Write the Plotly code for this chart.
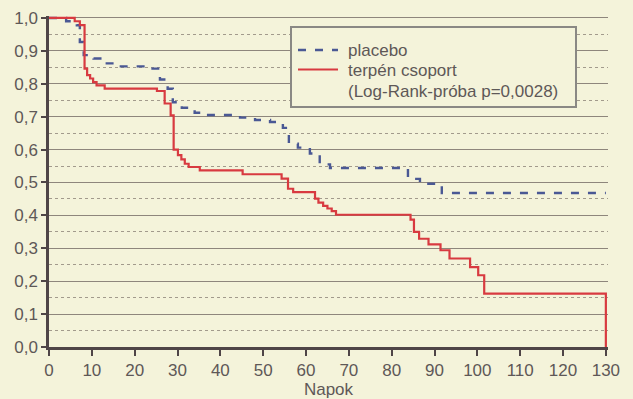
import plotly.graph_objects as go

# ---- data ----
placebo_days = [0, 4.0, 6.5, 7.2, 8.1, 10.4, 13.0, 16.0, 23.5, 25.9, 27.7, 28.9, 31.0, 34.0,
                36.6, 44.6, 48.1, 51.6, 54.6, 56.0, 58.1, 60.9, 63.2, 65.6, 83.8, 86.6, 91.7, 130]
placebo_surv = [1.0, 0.99, 0.978, 0.927, 0.887, 0.877, 0.862, 0.853, 0.846, 0.813, 0.785, 0.744,
                0.727, 0.712, 0.705, 0.697, 0.690, 0.684, 0.666, 0.618, 0.606, 0.588, 0.555, 0.544,
                0.511, 0.496, 0.468, 0.468]

terpen_days = [0, 6.0, 7.2, 8.3, 8.9, 9.6, 10.3, 11.1, 13.0, 25.2, 27.0, 28.4, 29.1, 30.1, 30.9,
               31.7, 32.6, 35.2, 45.2, 54.3, 55.8, 57.0, 62.1, 62.9, 64.0, 65.0, 66.0, 67.0, 84.4,
               85.2, 86.4, 88.6, 91.4, 93.5, 98.3, 100.2, 101.6, 130, 130]
terpen_surv = [1.0, 0.99, 0.978, 0.846, 0.826, 0.816, 0.805, 0.795, 0.785, 0.778, 0.740, 0.704,
               0.600, 0.583, 0.570, 0.557, 0.547, 0.537, 0.525, 0.512, 0.481, 0.471, 0.451, 0.439,
               0.429, 0.421, 0.413, 0.402, 0.387, 0.350, 0.329, 0.312, 0.294, 0.269, 0.243, 0.218,
               0.162, 0.162, 0.0]

series_names = ["placebo", "terpén csoport"]
legend_note = "(Log-Rank-próba p=0,0028)"

x_tickvals = [0, 10, 20, 30, 40, 50, 60, 70, 80, 90, 100, 110, 120, 130]
x_ticktext = [str(v) for v in x_tickvals]
y_tickvals = [0.0, 0.1, 0.2, 0.3, 0.4, 0.5, 0.6, 0.7, 0.8, 0.9, 1.0]
y_ticktext = ["0,0", "0,1", "0,2", "0,3", "0,4", "0,5", "0,6", "0,7", "0,8", "0,9", "1,0"]
x_title = "Napok"

# ---- styling ----
W_FIG, H_FIG = 633, 399
M_L, M_R, M_T, M_B = 49, 25, 16, 52
bg = "#f4f3da"
axis_col = "#4f4547"
text_col = "#5e5857"
grid_col = "#8e867c"
blue = "#4a5894"
red = "#d83a40"
blue_dash = "8px,9px"
font_family = "Liberation Sans, Arial, Helvetica, sans-serif"

PW = W_FIG - M_L - M_R
PH = H_FIG - M_T - M_B


def px_x(p):
    return (p - M_L) / PW


def px_y(p):
    return (H_FIG - M_B - p) / PH


fig = go.Figure()
fig.add_trace(go.Scatter(x=placebo_days, y=placebo_surv, mode="lines", line_shape="hv",
                         name=series_names[0], showlegend=False,
                         line=dict(color=blue, width=2.4, dash=blue_dash)))
fig.add_trace(go.Scatter(x=terpen_days, y=terpen_surv, mode="lines", line_shape="hv",
                         name=series_names[1], showlegend=False,
                         line=dict(color=red, width=2.2)))

# legend box drawn by hand (to match the compact line spacing of the original)
fig.add_shape(type="rect", xref="paper", yref="paper",
              x0=px_x(291), x1=px_x(576), y0=px_y(107), y1=px_y(27),
              fillcolor=bg, line=dict(color="#8a8884", width=2), layer="above")
fig.add_shape(type="line", xref="paper", yref="paper",
              x0=px_x(298), x1=px_x(338), y0=px_y(50), y1=px_y(50),
              line=dict(color=blue, width=2.4, dash=blue_dash), layer="above")
fig.add_shape(type="line", xref="paper", yref="paper",
              x0=px_x(298), x1=px_x(338), y0=px_y(69.5), y1=px_y(69.5),
              line=dict(color=red, width=2.2), layer="above")
for txt, py in [(series_names[0], 50), (series_names[1], 70.5), (legend_note, 91)]:
    fig.add_annotation(text=txt, xref="paper", yref="paper", x=px_x(346), y=px_y(py),
                       xanchor="left", yanchor="middle", showarrow=False,
                       font=dict(size=17, color=text_col, family=font_family))

fig.update_layout(
    width=W_FIG, height=H_FIG,
    margin=dict(l=M_L, r=M_R, t=M_T, b=M_B),
    paper_bgcolor=bg, plot_bgcolor=bg,
    font=dict(family=font_family, size=17, color=text_col),
    showlegend=False,
)
fig.update_xaxes(
    range=[0, 130.5], tickvals=x_tickvals, ticktext=x_ticktext, automargin=False,
    showgrid=False, zeroline=False,
    showline=True, linecolor=axis_col, linewidth=2.5,
    ticks="outside", ticklen=6, tickwidth=2, tickcolor=axis_col,
    title=dict(text=x_title, standoff=9, font=dict(size=17, color=text_col)),
)
fig.update_yaxes(
    range=[0, 1.006], tickvals=y_tickvals, ticktext=y_ticktext, automargin=False,
    showgrid=True, gridcolor=grid_col, gridwidth=1.2, zeroline=False,
    showline=True, linecolor=axis_col, linewidth=2.5,
    ticks="outside", ticklen=5, tickwidth=2, tickcolor=axis_col,
    minor=dict(dtick=0.05, tick0=0, showgrid=True, gridcolor="#a29a8c",
               griddash="dot", gridwidth=1, ticks=""),
)

# remove the browser's default 8px page margin so the figure fills the window
page_fix = ("document.body.style.margin='0';"
            "document.body.style.overflow='hidden';"
            "document.body.style.background='" + bg + "';")
fig.write_html("out.html", post_script=page_fix, config={"displayModeBar": False})
